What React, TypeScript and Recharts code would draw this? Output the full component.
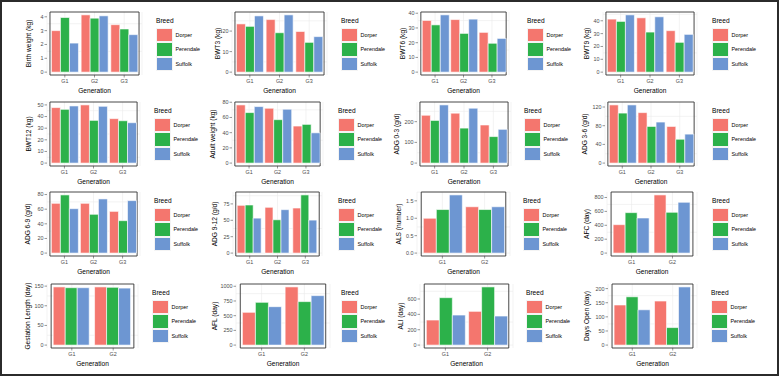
import React from 'react';
import { Bar, BarChart, CartesianGrid, ReferenceArea, XAxis, YAxis } from 'recharts';

const breeds = ['Dorper', 'Perendale', 'Suffolk'];
const breedColors = ['#F4766E', '#2CB14A', '#6D96D2'];
const gen3 = ['G1', 'G2', 'G3'];
const gen2 = ['G1', 'G2'];

// one row per generation, values in breed order (Dorper, Perendale, Suffolk)
const birthWeight = [[3.0, 3.95, 2.1], [4.14, 3.9, 4.07], [3.43, 3.12, 2.71]];
const birthWeightTicks = [0, 1, 2, 3, 4];
const bwt3 = [[23.5, 22.3, 27.4], [25.6, 19.2, 27.9], [19.8, 14.5, 17.3]];
const bwt3Ticks = [0, 10, 20];
const bwt6 = [[35.1, 32.1, 38.9], [35.7, 26.3, 36.0], [27.0, 19.6, 22.9]];
const bwt6Ticks = [0, 10, 20, 30, 40];
const bwt9 = [[41.3, 39.5, 44.6], [42.3, 31.2, 43.1], [32.3, 23.2, 29.4]];
const bwt9Ticks = [0, 10, 20, 30, 40];
const bwt12 = [[47.7, 46.2, 49.1], [50.0, 36.7, 48.8], [38.2, 36.4, 34.7]];
const bwt12Ticks = [0, 10, 20, 30, 40, 50];
const adultWeight = [[76.5, 66.4, 74.3], [72.1, 57.1, 70.8], [48.7, 50.9, 39.8]];
const adultWeightTicks = [0, 20, 40, 60, 80];
const adg03 = [[231, 206, 281], [241, 169, 265], [184, 128, 163]];
const adg03Ticks = [0, 100, 200];
const adg36 = [[124.5, 107, 124.5], [108, 78.4, 87.8], [78.4, 51, 62]];
const adg36Ticks = [0, 40, 80, 120];
const adg69 = [[68, 79.5, 60.7], [68, 53, 74], [57, 44.3, 71.7]];
const adg69Ticks = [0, 20, 40, 60, 80];
const adg912 = [[72.8, 73.3, 53.3], [69.7, 50.8, 66.2], [68.7, 88.7, 50.3]];
const adg912Ticks = [0, 25, 50, 75];
const als = [[1.0, 1.25, 1.67], [1.33, 1.25, 1.33]];
const alsTicks = [0, 0.5, 1, 1.5];
const afc = [[409, 582, 505], [837, 587, 731]];
const afcTicks = [0, 200, 400, 600, 800];
const gestation = [[148, 146, 146], [148, 147, 145]];
const gestationTicks = [0, 50, 100, 150];
const afl = [[557, 727, 653], [989, 739, 841]];
const aflTicks = [0, 250, 500, 750, 1000];
const ali = [[326, 617, 391], [439, 757, 378]];
const aliTicks = [0, 200, 400, 600];
const daysOpen = [[142, 171, 125], [156, 62, 206]];
const daysOpenTicks = [0, 50, 100, 150, 200];

type Spec = { title: string; cats: string[]; values: number[][]; ticks: number[]; decimals?: number };

const panels: Spec[] = [
  { title: 'Birth weight (kg)', cats: gen3, values: birthWeight, ticks: birthWeightTicks },
  { title: 'BWT3 (kg)', cats: gen3, values: bwt3, ticks: bwt3Ticks },
  { title: 'BWT6 (kg)', cats: gen3, values: bwt6, ticks: bwt6Ticks },
  { title: 'BWT9 (kg)', cats: gen3, values: bwt9, ticks: bwt9Ticks },
  { title: 'BWT12 (kg)', cats: gen3, values: bwt12, ticks: bwt12Ticks },
  { title: 'Adult weight (kg)', cats: gen3, values: adultWeight, ticks: adultWeightTicks },
  { title: 'ADG 0-3 (g/d)', cats: gen3, values: adg03, ticks: adg03Ticks },
  { title: 'ADG 3-6 (g/d)', cats: gen3, values: adg36, ticks: adg36Ticks },
  { title: 'ADG 6-9 (g/d)', cats: gen3, values: adg69, ticks: adg69Ticks },
  { title: 'ADG 9-12 (g/d)', cats: gen3, values: adg912, ticks: adg912Ticks },
  { title: 'ALS (number)', cats: gen2, values: als, ticks: alsTicks, decimals: 1 },
  { title: 'AFC (day)', cats: gen2, values: afc, ticks: afcTicks },
  { title: 'Gestation Length (day)', cats: gen2, values: gestation, ticks: gestationTicks },
  { title: 'AFL (day)', cats: gen2, values: afl, ticks: aflTicks },
  { title: 'ALI (day)', cats: gen2, values: ali, ticks: aliTicks },
  { title: 'Days Open (day)', cats: gen2, values: daysOpen, ticks: daysOpenTicks },
];

// layout of the 4x4 grid
const rowTops = [12, 102, 192, 284];
const rowBottoms = [75, 166, 256, 348];
const plotLefts = [[47, 232, 418, 603], [47, 232, 417, 605], [47, 233, 417, 607], [47, 236, 420, 608]];
const plotRights = [[142, 327, 509, 697], [140, 323, 511, 697], [140, 322, 510, 697], [138, 330, 513, 697]];
const titleXs = [[29, 218, 403, 587], [29, 213, 397, 585], [28, 215, 399, 587], [28, 215, 401, 587]];
const legendXs = [[156, 341, 527, 712], [154, 338, 524, 712], [154, 338, 523, 712], [152, 341, 526, 711]];

const FONT = '"Liberation Sans", Arial, sans-serif';
const TITLE_SIZE = 6.6;
const SMALL_SIZE = 5.4;

function BreedLegend({ x, top }: { x: number; top: number }) {
  return (
    <div style={{ position: 'absolute', left: x, top: top + 5, fontFamily: FONT }}>
      <div style={{ fontSize: TITLE_SIZE, lineHeight: '8px', height: 11, color: '#000' }}>Breed</div>
      {breeds.map((b, i) => (
        <div key={b} style={{ display: 'flex', alignItems: 'center', height: 14.3 }}>
          <div
            style={{
              width: 17,
              height: 14.3,
              boxSizing: 'border-box',
              background: breedColors[i],
              border: '0.8px solid #f4f4f4',
            }}
          />
          <span style={{ fontSize: SMALL_SIZE, marginLeft: 2.5, color: '#000' }}>{b}</span>
        </div>
      ))}
    </div>
  );
}

function Panel({ spec, row, col }: { spec: Spec; row: number; col: number }) {
  const top = rowTops[row];
  const bottom = rowBottoms[row];
  const left = plotLefts[row][col];
  const right = plotRights[row][col];
  const titleX = titleXs[row][col];
  const chartX = titleX - 8;
  const padTop = 3;
  const axisH = 19;
  const width = right - chartX + 3;
  const height = padTop + (bottom - top) + axisH + 2;

  const max = Math.max(...spec.values.flat());
  const lo = -0.05 * max;
  const hi = 1.05 * max;
  const n = spec.cats.length;
  const unit = (right - left) / (n + 0.2);
  const pad = 0.1 * unit;

  const step = spec.ticks[1] - spec.ticks[0];
  const grid = [...spec.ticks];
  spec.ticks.forEach((t) => {
    if (t + step / 2 < hi) grid.push(t + step / 2);
  });

  const data = spec.cats.map((g, i) => {
    const rowData: Record<string, string | number> = { gen: g };
    breeds.forEach((b, j) => {
      rowData[b] = spec.values[i][j];
    });
    return rowData;
  });

  return (
    <div style={{ position: 'absolute', left: chartX, top: top - padTop, fontFamily: FONT }}>
      <BarChart
        width={width}
        height={height}
        data={data}
        margin={{ top: padTop, right: 3, left: 0, bottom: 2 }}
        barGap={0}
        barCategoryGap="5%"
      >
        <CartesianGrid stroke="#EBEBEB" strokeWidth={0.6} horizontalValues={grid} />
        <XAxis
          dataKey="gen"
          height={axisH}
          padding={{ left: pad, right: pad }}
          axisLine={false}
          tickSize={2.5}
          tickMargin={1.5}
          tickLine={{ stroke: '#333', strokeWidth: 0.5 }}
          tick={{ fill: '#4D4D4D', fontSize: SMALL_SIZE }}
          label={{ value: 'Generation', position: 'insideBottom', offset: 1.5, fill: '#000', fontSize: TITLE_SIZE }}
        />
        <YAxis
          type="number"
          domain={[lo, hi]}
          ticks={spec.ticks}
          width={left - chartX}
          axisLine={false}
          tickSize={2.5}
          tickMargin={1}
          tickLine={{ stroke: '#333', strokeWidth: 0.5 }}
          tick={{ fill: '#4D4D4D', fontSize: SMALL_SIZE }}
          tickFormatter={(v: number) => (spec.decimals ? v.toFixed(spec.decimals) : String(v))}
          label={{
            value: spec.title,
            angle: -90,
            position: 'insideLeft',
            offset: 8,
            fill: '#000',
            fontSize: TITLE_SIZE,
            style: { textAnchor: 'middle' },
          }}
        />
        {breeds.map((b, i) => (
          <Bar key={b} dataKey={b} fill={breedColors[i]} stroke="#fff" strokeWidth={0.6} isAnimationActive={false} />
        ))}
        <ReferenceArea y1={lo} y2={hi} fill="none" fillOpacity={0} stroke="#333" strokeWidth={0.9} ifOverflow="visible" />
      </BarChart>
      <div style={{ position: 'absolute', left: 0, top: 0 }} />
    </div>
  );
}

export default function App() {
  return (
    <div style={{ position: 'absolute', left: 0, top: 0, width: 780, height: 377, background: '#fff' }}>
      <div
        style={{
          position: 'absolute',
          left: 0,
          top: 0,
          width: 779,
          height: 376,
          boxSizing: 'border-box',
          border: '2px solid #2b2b2b',
        }}
      />
      {panels.map((p, k) => {
        const row = Math.floor(k / 4);
        const col = k % 4;
        return (
          <React.Fragment key={p.title}>
            <Panel spec={p} row={row} col={col} />
            <BreedLegend x={legendXs[row][col]} top={rowTops[row]} />
          </React.Fragment>
        );
      })}
    </div>
  );
}
